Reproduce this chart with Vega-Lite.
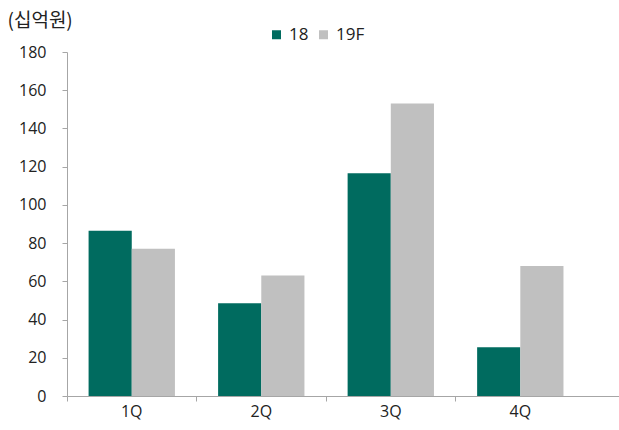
{
  "$schema": "https://vega.github.io/schema/vega-lite/v6.json",
  "width": 552,
  "height": 344,
  "autosize": {"type": "none"},
  "padding": {"left": 67, "top": 52, "right": 0, "bottom": 34},
  "background": "white",
  "config": {
    "view": {"stroke": null},
    "font": "Open Sans",
    "axis": {"domainColor": "#a6a6a6", "tickColor": "#a6a6a6", "labelColor": "#222222", "labelFontSize": 16, "labelFont": "Open Sans", "grid": false, "labelOverlap": false}
  },
  "data": {
    "values": [
      {"q": "1Q", "s": "18", "v": 86.5},
      {"q": "1Q", "s": "19F", "v": 77},
      {"q": "2Q", "s": "18", "v": 48.5},
      {"q": "2Q", "s": "19F", "v": 63},
      {"q": "3Q", "s": "18", "v": 116.5},
      {"q": "3Q", "s": "19F", "v": 153},
      {"q": "4Q", "s": "18", "v": 25.5},
      {"q": "4Q", "s": "19F", "v": 68}
    ]
  },
  "layer": [
    {
      "mark": {"type": "bar"},
      "encoding": {
        "x": {
          "field": "q", "type": "nominal",
          "scale": {"paddingInner": 0, "paddingOuter": 0.131, "align": 0},
          "axis": {"title": null, "labelAngle": 0, "ticks": false, "domain": true, "labelPadding": 7, "labelBaseline": "top"}
        },
        "xOffset": {"field": "s", "type": "nominal", "scale": {"paddingInner": 0, "paddingOuter": 0.5}},
        "y": {
          "field": "v", "type": "quantitative",
          "scale": {"domain": [0, 180], "nice": false},
          "axis": {
            "values": [0, 20, 40, 60, 80, 100, 120, 140, 160, 180],
            "labelOverlap": false,
            "title": "(십억원)", "titleAngle": 0, "titleX": -60, "titleY": -32,
            "titleAlign": "left", "titleBaseline": "middle", "titleFont": "Noto Sans CJK KR", "titleFontSize": 19, "titleFontWeight": "normal", "titleColor": "#222222",
            "ticks": true, "tickSize": 5, "labelPadding": 16
          }
        },
        "color": {
          "field": "s", "type": "nominal",
          "scale": {"domain": ["18", "19F"], "range": ["#006b5f", "#c0c0c0"]},
          "legend": {
            "title": null, "orient": "none", "direction": "horizontal",
            "legendX": 201, "legendY": -26,
            "symbolType": "square", "symbolSize": 81, "symbolStrokeWidth": 0,
            "labelFont": "Open Sans", "labelFontSize": 17, "labelColor": "#222222", "columnPadding": 6, "labelOffset": 4
          }
        }
      }
    },
    {
      "mark": {"type": "bar", "opacity": 0},
      "encoding": {
        "x": {
          "field": "q", "type": "nominal",
          "axis": {"title": null, "orient": "bottom", "labels": false, "domain": false, "ticks": true, "tickSize": 5, "bandPosition": 0}
        }
      }
    }
  ],
  "resolve": {"axis": {"x": "independent"}}
}
